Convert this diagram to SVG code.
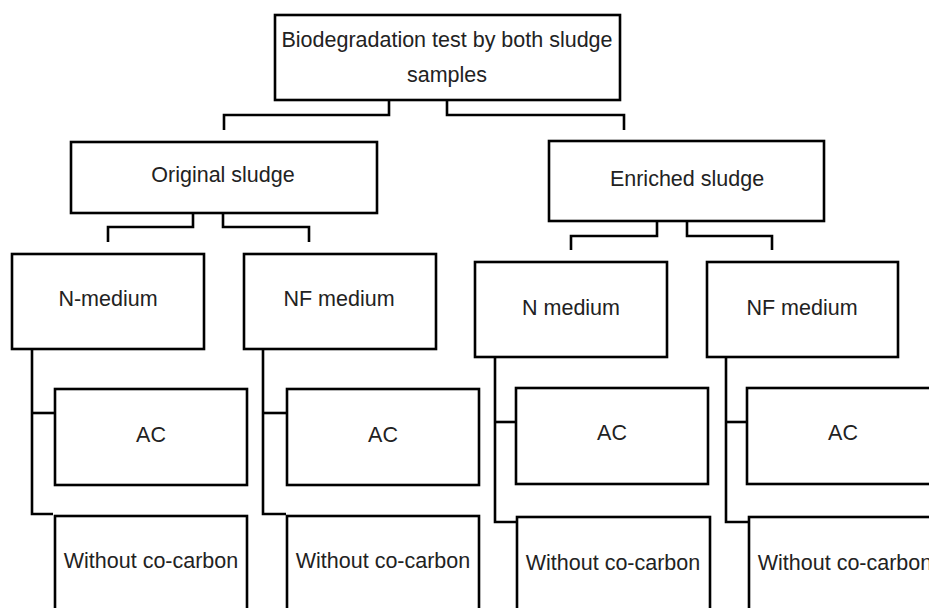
<svg xmlns="http://www.w3.org/2000/svg" width="929" height="608" viewBox="0 0 929 608">
<style>
.box{fill:#fff;stroke:#000;stroke-width:2.6}
.con{fill:none;stroke:#000;stroke-width:2.6;stroke-linejoin:miter;stroke-linecap:butt}
text{font-family:"Liberation Sans",Arial,sans-serif;font-size:21.5px;fill:#222;text-anchor:middle}
</style>
<rect width="929" height="608" fill="#fff"/>
<g id="connectors">
<polyline class="con" points="389,100 389,115 224,115 224,130"/>
<polyline class="con" points="447,100 447,115 624,115 624,130"/>
<polyline class="con" points="193,213 193,227 108,227 108,242"/>
<polyline class="con" points="223,213 223,227 309,227 309,242"/>
<polyline class="con" points="657,221 657,236 571,236 571,250"/>
<polyline class="con" points="687,221 687,236 772,236 772,250"/>
<polyline class="con" points="32,349 32,514 53,514"/>
<line class="con" x1="32" y1="413" x2="55" y2="413"/>
<polyline class="con" points="263,349 263,514 286,514"/>
<line class="con" x1="263" y1="413" x2="287" y2="413"/>
<polyline class="con" points="495,357 495,522 517,522"/>
<line class="con" x1="495" y1="422" x2="516" y2="422"/>
<polyline class="con" points="726,357 726,522 749,522"/>
<line class="con" x1="726" y1="422" x2="747" y2="422"/>
</g>
<g id="root"><rect class="box" x="275" y="15" width="345" height="85"/>
<text x="447" y="47">Biodegradation test by both sludge</text>
<text x="447" y="82">samples</text></g>
<g id="original"><rect class="box" x="71" y="142" width="306" height="71"/><text x="223" y="182">Original sludge</text></g>
<g id="enriched"><rect class="box" x="549" y="141" width="275" height="80"/><text x="687" y="186">Enriched sludge</text></g>
<g id="n-medium-1"><rect class="box" x="12" y="254" width="192" height="95"/><text x="108" y="306">N-medium</text></g>
<g id="nf-medium-1"><rect class="box" x="244" y="254" width="192" height="95"/><text x="339" y="306">NF medium</text></g>
<g id="n-medium-2"><rect class="box" x="475" y="262" width="192" height="95"/><text x="571" y="315">N medium</text></g>
<g id="nf-medium-2"><rect class="box" x="707" y="262" width="191" height="95"/><text x="802" y="315">NF medium</text></g>
<g id="ac-1"><rect class="box" x="55" y="389" width="192" height="96"/><text x="151" y="442">AC</text></g>
<g id="ac-2"><rect class="box" x="287" y="389" width="192" height="96"/><text x="383" y="442">AC</text></g>
<g id="ac-3"><rect class="box" x="516" y="388" width="192" height="96"/><text x="612" y="440">AC</text></g>
<g id="ac-4"><rect class="box" x="747" y="388" width="192" height="96"/><text x="843" y="440">AC</text></g>
<g id="without-1"><rect class="box" x="55" y="516" width="192" height="110"/><text x="151" y="568">Without co-carbon</text></g>
<g id="without-2"><rect class="box" x="287" y="516" width="192" height="110"/><text x="383" y="568">Without co-carbon</text></g>
<g id="without-3"><rect class="box" x="517" y="517" width="193" height="110"/><text x="613" y="570">Without co-carbon</text></g>
<g id="without-4"><rect class="box" x="749" y="517" width="193" height="110"/><text x="845" y="570">Without co-carbon</text></g>
</svg>
